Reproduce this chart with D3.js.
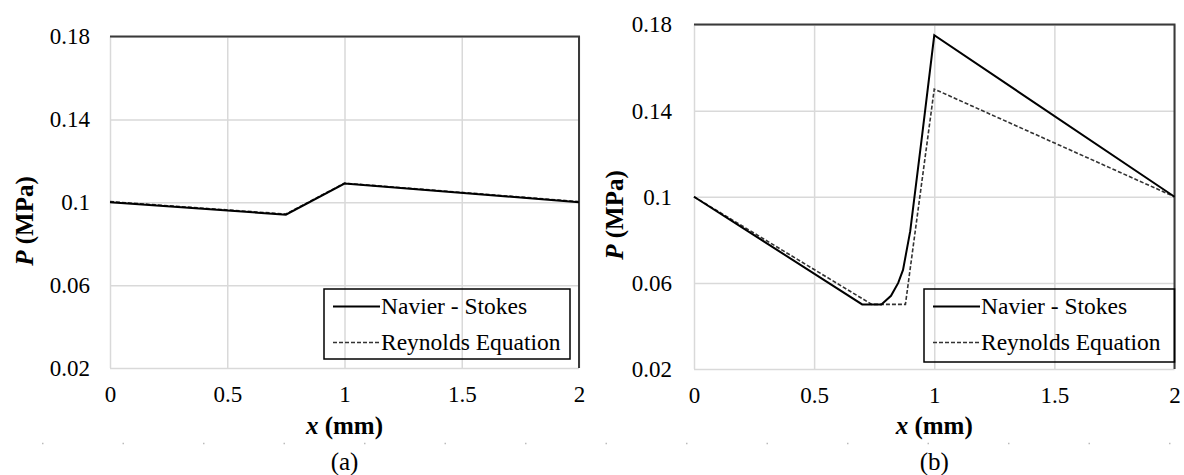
<!DOCTYPE html>
<html>
<head>
    <meta charset="UTF-8">
    <script src="https://d3js.org/d3.v7.min.js"></script>
    <style>
        .grid line { stroke: #d9d9d9; stroke-width: 1.5; }
        .grid .domain { display: none; }
    </style>
</head>
<body style="margin:0">
<script>
    // axis ticks
    var xTicks = [0, 0.5, 1, 1.5, 2];
    var yTicks = [0.02, 0.06, 0.1, 0.14, 0.18];
    var seriesNames = ["Navier - Stokes", "Reynolds Equation"];
    var panelLabels = ["(a)", "(b)"];

    // panel (a)
    var aNsX = [0, 0.75, 1.0, 2.0];
    var aNsP = [0.1, 0.094, 0.109, 0.1];
    var aReX = [0, 0.75, 1.0, 2.0];
    var aReP = [0.1003, 0.0943, 0.1092, 0.1003];

    // panel (b)
    var bNsX = [0, 0.7, 0.78, 0.82, 0.85, 0.87, 0.9, 0.95, 1.0, 2.0];
    var bNsP = [0.1, 0.05, 0.05, 0.054, 0.06, 0.066, 0.084, 0.129, 0.175, 0.1];
    var bReX = [0, 0.74, 0.88, 1.0, 2.0];
    var bReP = [0.1, 0.05, 0.05, 0.15, 0.1];

    var FONT = "Liberation Serif";

    var panels = [
        {left: 110, right: 579, top: 36.5, bottom: 368, yPad: 20, yTitleX: 25, yTitleY: 221,
         legend: {x: 324, y: 289, w: 246, h: 70}, ns: [aNsX, aNsP], re: [aReX, aReP]},
        {left: 694, right: 1174.5, top: 24.5, bottom: 369, yPad: 22, yTitleX: 615, yTitleY: 215,
         legend: {x: 924, y: 289, w: 250.5, h: 73}, ns: [bNsX, bNsP], re: [bReX, bReP]}
    ];

    var svg = d3.select("body").append("svg")
        .attr("width", 1184)
        .attr("height", 475)
        .attr("font-family", FONT);

    // faint dotted rule under the axis titles
    svg.append("line")
        .attr("x1", 42).attr("x2", 1184)
        .attr("y1", 443.5).attr("y2", 443.5)
        .attr("stroke", "#bbb")
        .attr("stroke-width", 1.5)
        .attr("stroke-dasharray", "1.5,79");

    panels.forEach(function(p, i) {
        var width = p.right - p.left,
            height = p.bottom - p.top;

        var x = d3.scaleLinear().domain([0, 2]).range([0, width]);
        var y = d3.scaleLinear().domain([0.02, 0.18]).range([height, 0]);

        var g = svg.append("g")
            .attr("transform", "translate(" + p.left + "," + p.top + ")");

        // X gridlines + labels
        g.append("g")
            .attr("class", "grid")
            .attr("transform", "translate(0," + height + ")")
            .call(d3.axisBottom(x)
                .tickValues(xTicks)
                .tickSize(-height)
                .tickPadding(18)
                .tickFormat(d3.format("")));

        // Y gridlines + labels
        g.append("g")
            .attr("class", "grid")
            .call(d3.axisLeft(y)
                .tickValues(yTicks)
                .tickSize(-width)
                .tickPadding(p.yPad)
                .tickFormat(d3.format("")));

        g.selectAll(".grid")
            .attr("font-family", FONT)
            .attr("font-size", 23);
        g.selectAll(".tick text").attr("fill", "#000");

        // top and right frame
        g.append("path")
            .attr("d", "M0,0H" + width + "V" + height)
            .attr("fill", "none")
            .attr("stroke", "#3a3a3a")
            .attr("stroke-width", 2);

        var line = d3.line()
            .x(function(d) { return x(d[0]); })
            .y(function(d) { return y(d[1]); });

        var reData = d3.zip(p.re[0], p.re[1]);
        var nsData = d3.zip(p.ns[0], p.ns[1]);

        g.append("path")
            .datum(reData)
            .attr("d", line)
            .attr("fill", "none")
            .attr("stroke", "#333")
            .attr("stroke-width", 1.6)
            .attr("stroke-dasharray", "4,2");

        g.append("path")
            .datum(nsData)
            .attr("d", line)
            .attr("fill", "none")
            .attr("stroke", "#000")
            .attr("stroke-width", 2);

        // Legend (no fill, gridlines show through)
        var L = p.legend;
        svg.append("rect")
            .attr("x", L.x).attr("y", L.y)
            .attr("width", L.w).attr("height", L.h)
            .attr("fill", "none")
            .attr("stroke", "#000")
            .attr("stroke-width", 1.5);

        seriesNames.forEach(function(name, k) {
            var ly = L.y + 17.5 + k * 36;
            svg.append("line")
                .attr("x1", L.x + 9).attr("x2", L.x + 56)
                .attr("y1", ly).attr("y2", ly)
                .attr("stroke", k === 0 ? "#000" : "#333")
                .attr("stroke-width", k === 0 ? 2 : 1.6)
                .attr("stroke-dasharray", k === 0 ? null : "4,2");
            svg.append("text")
                .attr("x", L.x + 57)
                .attr("y", ly + 7.5)
                .attr("font-size", 23.5)
                .text(name);
        });

        // Axis titles
        var xt = svg.append("text")
            .attr("x", p.left + width / 2)
            .attr("y", 434)
            .attr("text-anchor", "middle")
            .attr("font-size", 25)
            .attr("font-weight", "bold");
        xt.append("tspan").attr("font-style", "italic").text("x");
        xt.append("tspan").text(" (mm)");

        var yt = svg.append("text")
            .attr("transform", "translate(" + (p.yTitleX + 8) + "," + p.yTitleY + ") rotate(-90)")
            .attr("text-anchor", "middle")
            .attr("font-size", 25)
            .attr("font-weight", "bold");
        yt.append("tspan").attr("font-style", "italic").text("P");
        yt.append("tspan").text(" (MPa)");

        svg.append("text")
            .attr("x", p.left + width / 2)
            .attr("y", 470)
            .attr("text-anchor", "middle")
            .attr("font-size", 25)
            .text(panelLabels[i]);
    });
</script>
</body>
</html>
